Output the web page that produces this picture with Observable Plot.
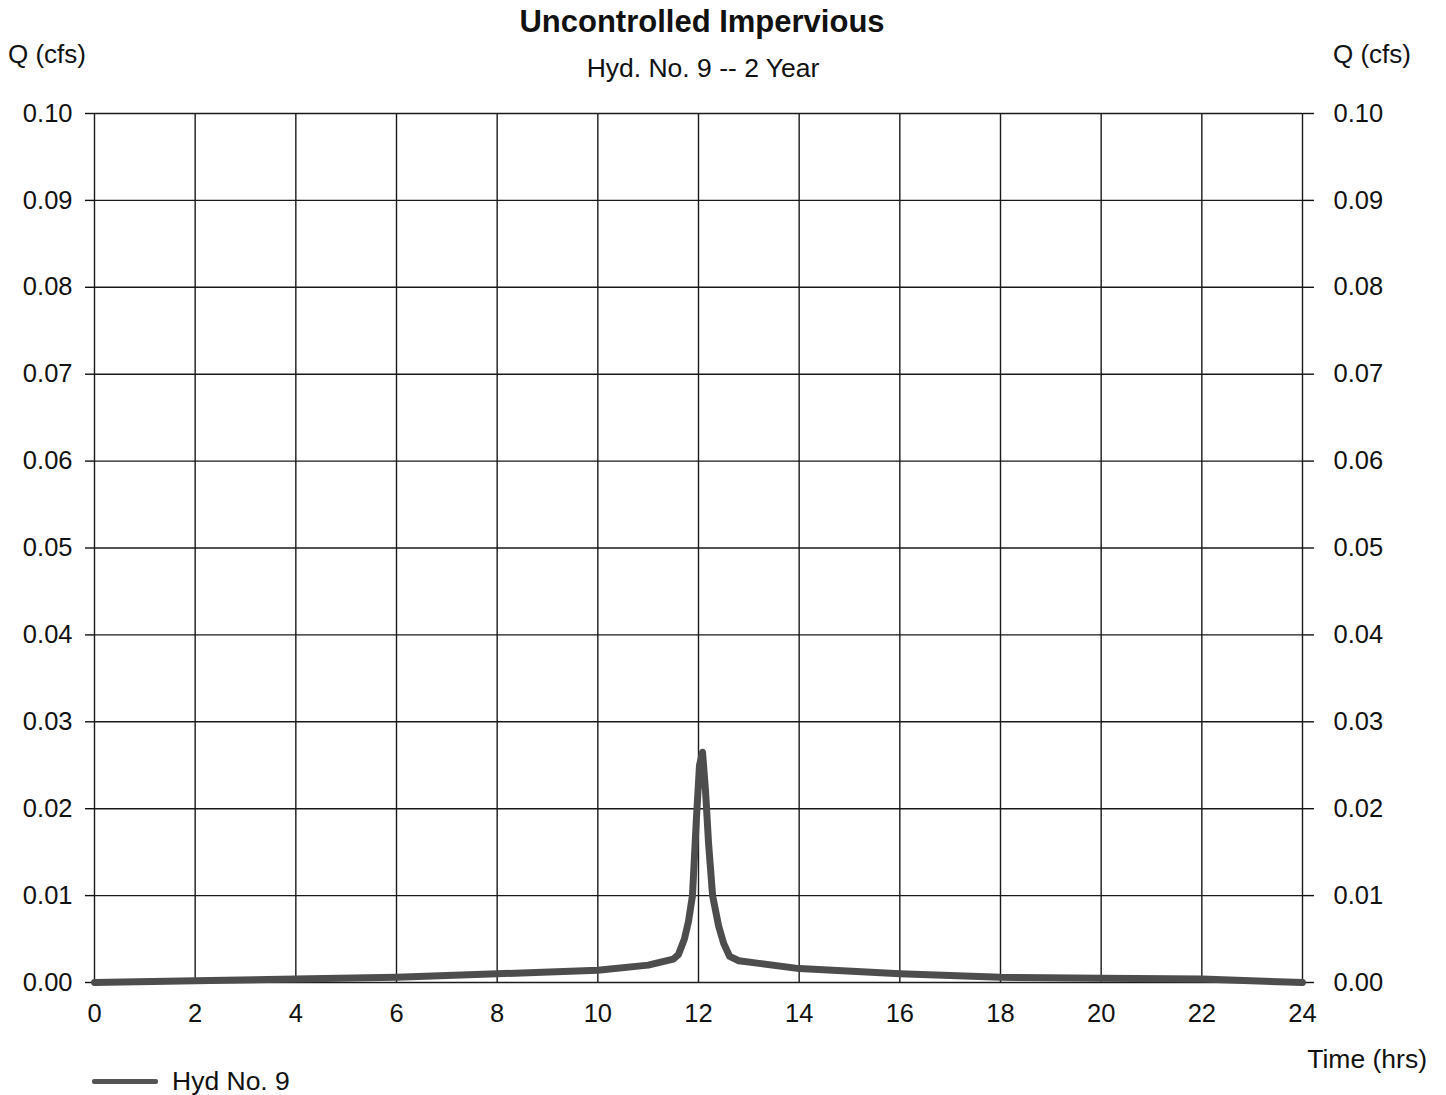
<!DOCTYPE html>
<html>
<head>
<meta charset="utf-8">
<script src="https://cdn.jsdelivr.net/npm/d3@7"></script>
<script src="https://cdn.jsdelivr.net/npm/@observablehq/plot@0.6"></script>
<style>
  html, body { margin: 0; padding: 0; background: #fff; }
  body { font-family: "Liberation Sans", Arial, sans-serif; color: #111; }
  #wrap { position: relative; width: 1446px; height: 1095px; overflow: hidden; }
  .hdr { position: relative; height: 90px; }
  .t { position: absolute; line-height: 1; white-space: nowrap; }
  .ftr { position: relative; height: 50px; }
  .swatch { position: absolute; left: 92px; top: 34px; width: 66px; height: 5px; background: #555; border-radius: 2px; }
</style>
</head>
<body>
<div id="wrap">
  <div class="hdr">
    <div class="t" style="left:0;width:1404px;text-align:center;top:6px;font-size:31px;font-weight:bold;">Uncontrolled Impervious</div>
    <div class="t" style="left:0;width:1406px;text-align:center;top:55px;font-size:26.5px;">Hyd. No. 9 -- 2 Year</div>
    <div class="t" style="left:8px;top:41px;font-size:26px;">Q (cfs)</div>
    <div class="t" style="left:1333px;top:41px;font-size:26px;">Q (cfs)</div>
  </div>
  <div id="chart"></div>
  <div class="ftr">
    <div class="t" style="right:19px;top:1px;font-size:26.5px;">Time (hrs)</div>
    <div class="swatch"></div>
    <div class="t" style="left:172px;top:23px;font-size:26.5px;">Hyd No. 9</div>
  </div>
</div>
<script>
// Hydrograph ordinates: time (hrs) and discharge Q (cfs)
const timeHrs = [0, 2, 4, 6, 8, 10, 11, 11.5, 11.6, 11.72, 11.8, 11.88, 11.96, 12.02, 12.08,
                 12.14, 12.2, 12.28, 12.4, 12.5, 12.62, 12.8, 13.2, 14, 16, 18, 20, 22, 24];
const flowCfs = [0.0000, 0.0002, 0.0004, 0.0006, 0.0010, 0.0014, 0.0020, 0.0027, 0.0032, 0.0050, 0.0070, 0.0100, 0.0190, 0.0250, 0.0265,
                 0.0220, 0.0160, 0.0100, 0.0065, 0.0045, 0.0030, 0.0025, 0.0022, 0.0016, 0.0010, 0.0006, 0.0005, 0.0004, 0.0000];

// Axis ticks
const xTicks = [0, 2, 4, 6, 8, 10, 12, 14, 16, 18, 20, 22, 24];
const yTicks = [0, 0.01, 0.02, 0.03, 0.04, 0.05, 0.06, 0.07, 0.08, 0.09, 0.10];

const hydro = timeHrs.map((t, i) => ({t, q: flowCfs[i]}));
const fmt = d3.format(".2f");

const chart = Plot.plot({
  width: 1446,
  height: 955,
  marginTop: 23,
  marginBottom: 63,
  marginLeft: 94,
  marginRight: 144,
  style: {fontFamily: "'Liberation Sans', Arial, sans-serif", fontSize: "25.5px", color: "#111", background: "#fff"},
  x: {domain: [0, 24]},
  y: {domain: [0, 0.10]},
  marks: [
    Plot.ruleX(xTicks, {stroke: "#1a1a1a", strokeWidth: 1.4}),
    Plot.ruleY(yTicks, {stroke: "#1a1a1a", strokeWidth: 1.4}),
    Plot.axisY({anchor: "left", ticks: yTicks, tickFormat: fmt, tickSize: 9, tickPadding: 13, label: null, strokeWidth: 1.4}),
    Plot.axisY({anchor: "right", ticks: yTicks, tickFormat: fmt, tickSize: 11, tickPadding: 20, label: null, strokeWidth: 1.4}),
    Plot.axisX({anchor: "bottom", ticks: xTicks, tickFormat: d => String(d), tickSize: 0, tickPadding: 21, label: null}),
    Plot.line(hydro, {x: "t", y: "q", stroke: "#4d4d4d", strokeWidth: 7, strokeLinejoin: "round", strokeLinecap: "round"})
  ]
});
document.getElementById("chart").appendChild(chart);
</script>
</body>
</html>
